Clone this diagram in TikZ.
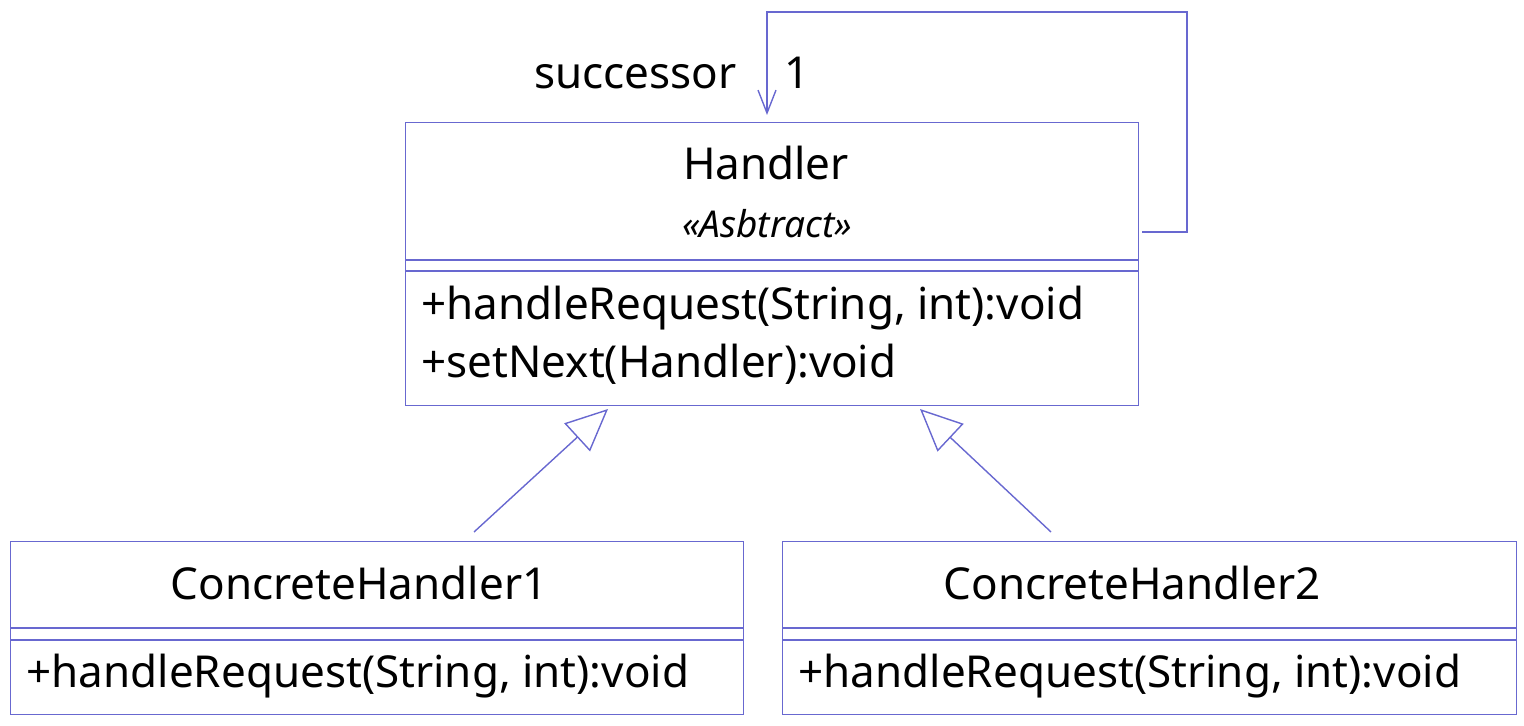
\documentclass[tikz,border=0pt]{standalone}
\usepackage{fontspec}
\setmainfont{Noto Sans}
\usepackage{tikz}
\usetikzlibrary{arrows.meta,calc}
\definecolor{UmlBlue}{RGB}{104, 104, 208}
\tikzset{
	classbox/.style={draw=UmlBlue, line width=0.7pt, inner sep=0, anchor=north west},
	sepline/.style={draw=UmlBlue, line width=0.7pt},
	txt/.style={inner sep=0, font=\fontsize{22}{26}\selectfont},
	generalize/.style={draw=UmlBlue, line width=0.7pt,
		-{Triangle[open, length=21pt, width=19pt, line width=0.7pt]}},
	assoc/.style={draw=UmlBlue, line width=0.7pt,
		-{Straight Barb[length=11.5pt, width=9pt, line width=0.7pt]}},
}
\begin{document}
\begin{tikzpicture}[x=0.5pt, y=-0.5pt]
\useasboundingbox (0,0) rectangle (1524,726);

% abstract handler
\node[classbox, minimum width=366.5pt, minimum height=141.5pt] (handler) at (405,122) {};
\draw[sepline] (405,260) -- (1138,260);
\draw[sepline] (405,271) -- (1138,271);
\node[txt, anchor=base] (hname) at (766,180) {Handler};
\node[txt, anchor=base, font=\fontsize{18.5}{22}\selectfont\itshape] (hstereo) at (767,238) {«Asbtract»};
\node[txt, anchor=base west] (hm1) at (421,320) {+handleRequest(String, int):void};
\node[txt, anchor=base west] (hm2) at (421,378) {+setNext(Handler):void};

% concrete handlers
\node[classbox, minimum width=366.5pt, minimum height=86.5pt] (ch1) at (10,541) {};
\draw[sepline] (10,628) -- (743,628);
\draw[sepline] (10,640) -- (743,640);
\node[txt, anchor=base] (ch1name) at (359,599) {ConcreteHandler1};
\node[txt, anchor=base west] (ch1m) at (26,687) {+handleRequest(String, int):void};

\node[classbox, minimum width=367pt, minimum height=86.5pt] (ch2) at (782,541) {};
\draw[sepline] (782,628) -- (1516,628);
\draw[sepline] (782,640) -- (1516,640);
\node[txt, anchor=base] (ch2name) at (1132,599) {ConcreteHandler2};
\node[txt, anchor=base west] (ch2m) at (798,687) {+handleRequest(String, int):void};

% successor link
\coordinate (loopout) at ($(handler.north east)+(3,110)$);
\coordinate (loopin) at ($(handler.north west)+(362,-7)$);
\draw[assoc] (loopout) -- (1187,232) -- (1187,12) -- (767,12) -- (loopin);
\node[txt, anchor=base east] (role) at (737,89) {successor};
\node[txt, anchor=base west] (mult) at (784,89) {1};

% inheritance
\coordinate (g1from) at (474,532);
\coordinate (g1to) at (608,409);
\coordinate (g2from) at (1051,532);
\coordinate (g2to) at (920,409);
\draw[generalize] (g1from) -- (g1to);
\draw[generalize] (g2from) -- (g2to);
\end{tikzpicture}
\end{document}
